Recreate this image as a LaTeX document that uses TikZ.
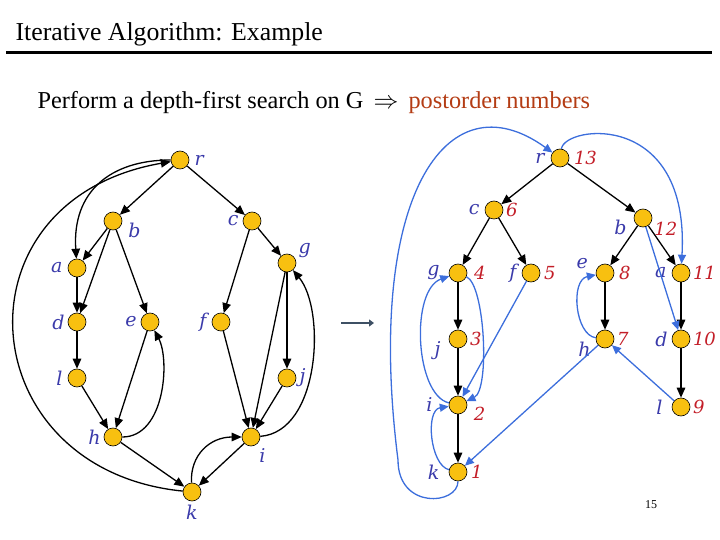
\documentclass[tikz,border=0pt]{standalone}
\usepackage{fontspec}
\setmainfont{Liberation Serif}
\newfontfamily\lblfont{DejaVu Serif}
\usepackage{tikz}
\usetikzlibrary{arrows.meta}
\usetikzlibrary{positioning}

\definecolor{nodegold}{RGB}{248,192,16}
\definecolor{lblblue}{RGB}{58,58,170}
\definecolor{numred}{RGB}{195,30,40}
\definecolor{backblue}{RGB}{60,110,220}
\definecolor{postred}{RGB}{180,60,20}
\definecolor{slate}{RGB}{62,80,100}

\tikzset{
    vtx/.style={circle, draw=black, fill=nodegold, minimum size=18pt, inner sep=0pt, line width=0.6pt},
    lbl/.style={text=lblblue, font=\lblfont\fontsize{19}{19}\selectfont\itshape, inner sep=1pt},
    num/.style={text=numred, font=\lblfont\fontsize{18}{18}\selectfont\itshape, inner sep=0.5pt},
    dfsarc/.style={line width=1.3pt, -{Triangle[length=10pt,width=8.5pt]}},
    backarc/.style={line width=1.3pt, draw=backblue, -{Triangle[length=9pt,width=8pt]}, backblue},
}

\begin{document}
\begin{tikzpicture}[x=1pt, y=-1pt, label distance=2pt]
    \useasboundingbox (0,0) rectangle (720,540);

    \node[anchor=base west, font=\fontsize{25.8}{25.8}\selectfont] (title) at (12,41) {Iterative Algorithm: Example};
    \draw[line width=3pt] (6,53) -- (712,53);
    \node[anchor=base west, font=\fontsize{24.3}{24.3}\selectfont] (task) at (34,109)
        {Perform a depth-first search on G\, $\Rightarrow$\, \textcolor{postred}{postorder numbers}};

    % the graph G
    \node[vtx, label={[lbl, label distance=4pt]right:r}] (r) at (180,160) {};
    \node[vtx, label={[lbl, label distance=5pt]-5:b}] (b) at (113,221) {};
    \node[vtx, label={[lbl, label distance=3pt]left:c}] (c) at (252,221) {};
    \node[vtx, label={[lbl, label distance=4pt]left:a}] (a) at (77,268) {};
    \node[vtx, label={[lbl]22:g}] (g) at (287,263) {};
    \node[vtx, label={[lbl]left:d}] (d) at (77,322) {};
    \node[vtx, label={[lbl, label distance=3pt]left:e}] (e) at (150,322) {};
    \node[vtx, label={[lbl, label distance=4pt]left:f}] (f) at (221,322) {};
    \node[vtx, label={[lbl, label distance=4pt]left:l}] (l) at (77,378) {};
    \node[vtx, label={[lbl]right:j}] (j) at (287,378) {};
    \node[vtx, label={[lbl]left:h}] (h) at (113,437) {};
    \node[vtx, label={[lbl, label distance=3pt]-55:i}] (i) at (251,437) {};
    \node[vtx, label={[lbl, label distance=3pt]below:k}] (k) at (192,492) {};

    \foreach \u/\v in {r/b, r/c, b/a, b/d, b/e, a/d, d/l, l/h, e/h, h/k, c/f, c/g, g/j, g/i, j/i, f/i, i/k}
        \draw[dfsarc] (\u) -- (\v);
    \draw[dfsarc] (k) .. controls (-30,470) and (-50,200) .. (r);
    \draw[dfsarc] (r) .. controls (110,160) and (72,192) .. (a);
    \draw[dfsarc] (h) .. controls (165,437) and (170,360) .. (e);
    \draw[dfsarc] (i) .. controls (320,432) and (326,310) .. (g);
    \draw[dfsarc] (k) .. controls (190,455) and (210,437) .. (i);

    \coordinate (from) at (341,323);
    \coordinate (to) at (374,323);
    \draw[slate, line width=2.2pt, -{Triangle[length=5pt,width=7pt]}] (from) -- (to);

    % depth-first spanning tree
    \node[vtx, label={[lbl, label distance=5pt]left:r}, label={[num, label distance=4pt]right:13}] (tr) at (560,158) {};
    \node[vtx, label={[lbl, label distance=4pt]left:c}, label={[num]right:6}] (tc) at (494,210) {};
    \node[vtx, label={[lbl, label distance=6pt]185:b}, label={[num]-20:12}] (tb) at (643,218) {};
    \node[vtx, label={[lbl, label distance=8pt]left:g}, label={[num, label distance=6pt]right:4}] (tg) at (458,273) {};
    \node[vtx, label={[lbl, label distance=4pt]left:f}, label={[num, label distance=3pt]right:5}] (tf) at (531,273) {};
    \node[vtx, label={[lbl, label distance=7pt]170:e}, label={[num, label distance=4pt]right:8}] (te) at (605,273) {};
    \node[vtx, label={[lbl, label distance=4pt]left:a}, label={[num]right:11}] (ta) at (681,273) {};
    \node[vtx, label={[lbl, label distance=7pt]185:j}, label={[num]right:3}] (tj) at (458,339) {};
    \node[vtx, label={[lbl, label distance=4pt]188:h}, label={[num]right:7}] (th) at (605,339) {};
    \node[vtx, label={[lbl, label distance=3pt]left:d}, label={[num]right:10}] (td) at (681,339) {};
    \node[vtx, label={[lbl, label distance=15pt]left:i}, label={[num, label distance=6pt]-5:2}] (ti) at (458,405) {};
    \node[vtx, label={[lbl, label distance=8pt]left:l}, label={[num]right:9}] (tl) at (681,407) {};
    \node[vtx, label={[lbl, label distance=8pt]left:k}, label={[num, label distance=3pt]right:1}] (tk) at (458,472) {};

    \foreach \u/\v in {tr/tc, tr/tb, tc/tg, tc/tf, tb/te, tb/ta, tg/tj, tj/ti, ti/tk, te/th, ta/td, td/tl}
        \draw[dfsarc] (\u) -- (\v);
    \draw[backarc] (tk) .. controls (458,505) and (398,510) .. (398,460) .. controls (365,200) and (445,75) .. (tr);
    \draw[backarc] (tr) .. controls (565,125) and (690,110) .. (ta);
    \draw[backarc] (tb) -- (td);
    \draw[backarc] (tg) .. controls (485,285) and (490,390) .. (ti);
    \draw[backarc] (ti) .. controls (415,395) and (410,290) .. (tg);
    \draw[backarc] (tf) -- (ti);
    \draw[backarc] (th) .. controls (575,335) and (570,280) .. (te);
    \draw[backarc] (th) -- (tk);
    \draw[backarc] (tl) -- (th);
    \draw[backarc] (tk) .. controls (430,465) and (425,410) .. (ti);

    \node[font=\fontsize{12}{12}\selectfont] (page) at (651,505) {15};
\end{tikzpicture}
\end{document}
